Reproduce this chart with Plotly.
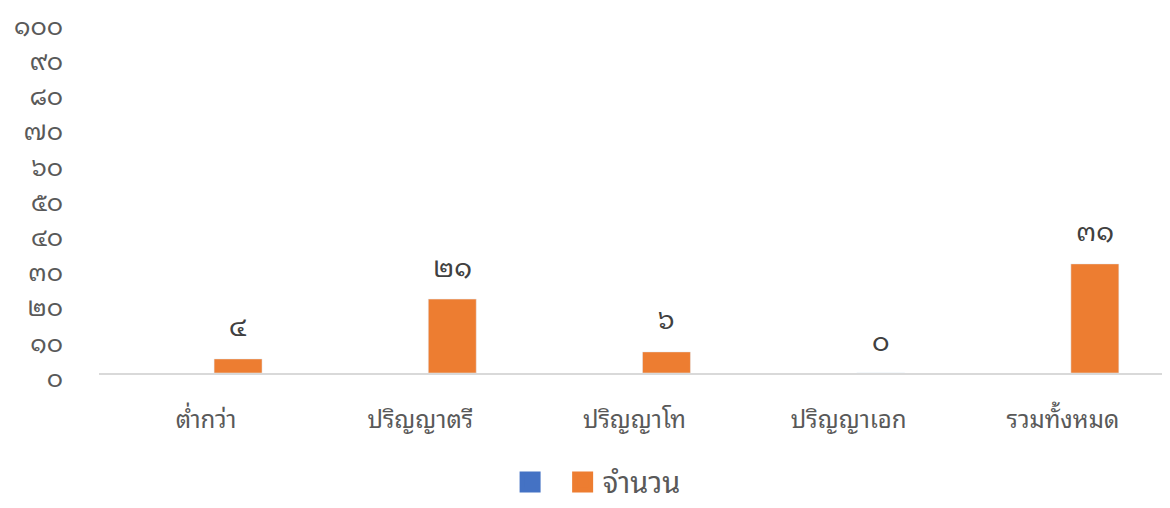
import plotly.graph_objects as go

categories = ["ต่ำกว่า", "ปริญญาตรี", "ปริญญาโท", "ปริญญาเอก", "รวมทั้งหมด"]
series_blank = [None, None, None, None, None]
series_count = [4, 21, 6, 0, 31]
series_name = "จำนวน"
y_ticks = [0, 10, 20, 30, 40, 50, 60, 70, 80, 90, 100]

THAI_DIGITS = str.maketrans("0123456789", "๐๑๒๓๔๕๖๗๘๙")


def thai(n):
    return str(n).translate(THAI_DIGITS)


FONT = "Noto Sans Thai Looped, Noto Serif Thai, Noto Sans Thai, Tahoma, sans-serif"
BLUE = "#4472C4"
ORANGE = "#ED7D31"

fig = go.Figure()
fig.add_trace(go.Bar(x=categories, y=series_blank, name=" ", marker_color=BLUE, showlegend=False))
fig.add_trace(go.Bar(x=categories, y=series_count, name=series_name, marker_color=ORANGE, showlegend=False))
# legend entries with larger square symbols
fig.add_trace(go.Scatter(x=[None], y=[None], mode="markers", name=" ",
                         marker=dict(symbol="square", size=16, color=BLUE, line=dict(color=BLUE, width=5))))
fig.add_trace(go.Scatter(x=[None], y=[None], mode="markers", name=series_name,
                         marker=dict(symbol="square", size=16, color=ORANGE, line=dict(color=ORANGE, width=5))))

for c, v in zip(categories, series_count):
    fig.add_annotation(x=c, y=v, xref="x", yref="y", text=thai(v), showarrow=False,
                       xshift=32, yshift=35, yanchor="middle",
                       font=dict(family=FONT, size=27, color="#404040"))

fig.update_layout(
    width=1170, height=508,
    margin=dict(l=91, r=8, t=13, b=127),
    paper_bgcolor="white", plot_bgcolor="white",
    barmode="group", bargap=0.403, bargroupgap=0.25,
    font=dict(family=FONT, color="#595959"),
    showlegend=True,
    legend=dict(orientation="h", x=0.466, xanchor="center", xref="paper",
                y=-0.31, yanchor="middle", font=dict(size=29, color="#595959"),
                itemsizing="trace"),
    xaxis=dict(showgrid=False, showline=True, linecolor="#d9d9d9", linewidth=2,
               tickfont=dict(size=24, color="#595959"), ticks="outside",
               ticklen=24, tickcolor="rgba(0,0,0,0)", automargin=False),
    yaxis=dict(range=[0, 100], tickvals=y_ticks, ticktext=[thai(t) for t in y_ticks],
               showgrid=False, zeroline=False, showline=False,
               tickfont=dict(size=25, color="#595959"), ticks="outside",
               ticklen=30, tickcolor="rgba(0,0,0,0)", automargin=False,
               ticklabeloverflow="allow", ticklabelshift=5),
)

fig.write_html("out.html", config={"displayModeBar": False})
